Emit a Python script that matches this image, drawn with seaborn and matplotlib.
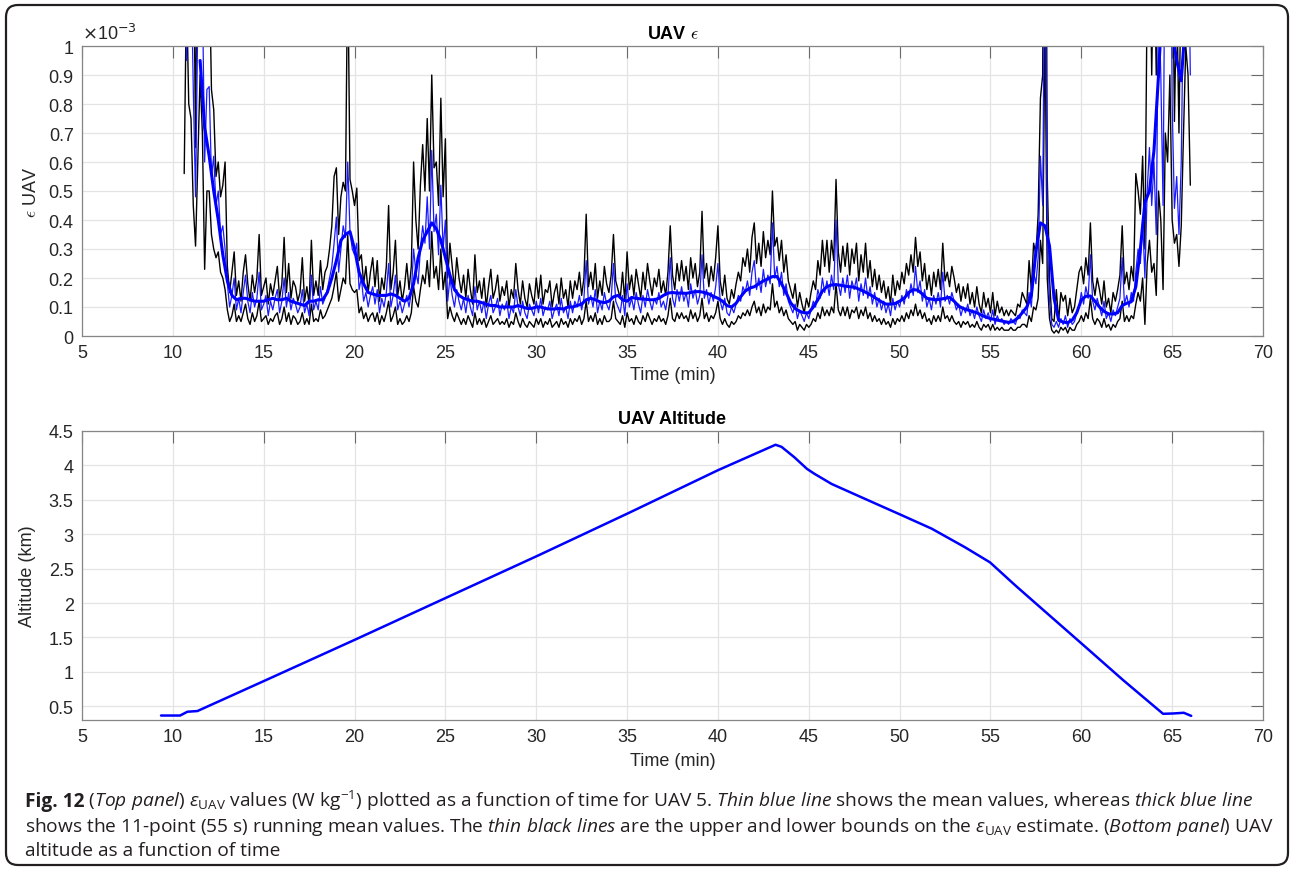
import numpy as np
import pandas as pd
import matplotlib
matplotlib.use("Agg")
import matplotlib.pyplot as plt
import seaborn as sns
from matplotlib.patches import FancyBboxPatch
from matplotlib.ticker import FuncFormatter, MultipleLocator

# ---------------- data (epsilon in units of 1e-3 W/kg) ----------------
# sampled every 0.125 min starting at 10.625 min (rows = one minute)
eps_t0, eps_dt = 10.625, 0.125
eps_mean = [
    1.6, 0.95, 1.4,
    1.3, 0.85, 0.48, 1.1, 1.5, 1.2, 0.60, 0.85,
    0.86, 0.55, 0.62, 0.45, 0.50, 0.35, 0.38, 0.30,
    0.18, 0.10, 0.14, 0.20, 0.09, 0.13, 0.08, 0.15,
    0.21, 0.12, 0.08, 0.15, 0.10, 0.13, 0.22, 0.09,
    0.11, 0.14, 0.07, 0.12, 0.09, 0.13, 0.16, 0.08,
    0.12, 0.20, 0.10, 0.15, 0.09, 0.13, 0.11, 0.08,
    0.10, 0.16, 0.08, 0.11, 0.07, 0.21, 0.09, 0.12,
    0.09, 0.17, 0.11, 0.13, 0.16, 0.20, 0.24, 0.32,
    0.41, 0.22, 0.30, 0.38, 0.34, 0.60, 0.36, 0.30,
    0.28, 0.32, 0.16, 0.20, 0.12, 0.15, 0.10, 0.14,
    0.17, 0.11, 0.16, 0.08, 0.13, 0.10, 0.15, 0.25,
    0.10, 0.14, 0.21, 0.09, 0.12, 0.08, 0.11, 0.14,
    0.10, 0.15, 0.30, 0.22, 0.18, 0.30, 0.38, 0.32,
    0.48, 0.30, 0.64, 0.36, 0.42, 0.28, 0.52, 0.30,
    0.40, 0.12, 0.20, 0.14, 0.10, 0.16, 0.12, 0.09,
    0.13, 0.08, 0.14, 0.10, 0.07, 0.17, 0.09, 0.12,
    0.08, 0.12, 0.06, 0.11, 0.14, 0.08, 0.10, 0.13,
    0.07, 0.11, 0.09, 0.12, 0.06, 0.10, 0.08, 0.16,
    0.10, 0.07, 0.12, 0.08, 0.06, 0.11, 0.09, 0.07,
    0.12, 0.08, 0.13, 0.07, 0.10, 0.09, 0.12, 0.06,
    0.09, 0.11, 0.07, 0.13, 0.08, 0.10, 0.06, 0.12,
    0.08, 0.12, 0.10, 0.14, 0.09, 0.13, 0.26, 0.11,
    0.14, 0.10, 0.16, 0.08, 0.12, 0.09, 0.15, 0.11,
    0.09, 0.13, 0.25, 0.12, 0.10, 0.08, 0.14, 0.07,
    0.18, 0.10, 0.13, 0.09, 0.15, 0.11, 0.08, 0.14,
    0.10, 0.16, 0.12, 0.09, 0.13, 0.11, 0.15, 0.10,
    0.12, 0.09, 0.14, 0.27, 0.13, 0.10, 0.16, 0.12,
    0.17, 0.12, 0.15, 0.10, 0.18, 0.13, 0.16, 0.11,
    0.14, 0.28, 0.13, 0.16, 0.11, 0.15, 0.12, 0.17,
    0.25, 0.12, 0.09, 0.13, 0.08, 0.07, 0.10, 0.08,
    0.11, 0.14, 0.12, 0.17, 0.15, 0.19, 0.14, 0.22,
    0.26, 0.16, 0.20, 0.15, 0.23, 0.17, 0.21, 0.18,
    0.39, 0.20, 0.24, 0.17, 0.22, 0.14, 0.18, 0.12,
    0.10, 0.08, 0.11, 0.06, 0.09, 0.07, 0.05, 0.08,
    0.06, 0.09, 0.12, 0.10, 0.16, 0.13, 0.20, 0.15,
    0.19, 0.14, 0.21, 0.16, 0.40, 0.18, 0.14, 0.20,
    0.15, 0.21, 0.13, 0.19, 0.16, 0.20, 0.12, 0.18,
    0.14, 0.20, 0.13, 0.17, 0.11, 0.15, 0.10, 0.13,
    0.09, 0.12, 0.08, 0.11, 0.07, 0.13, 0.09, 0.12,
    0.10, 0.14, 0.11, 0.16, 0.13, 0.18, 0.14, 0.24,
    0.15, 0.19, 0.12, 0.16, 0.10, 0.13, 0.09, 0.14,
    0.11, 0.15, 0.10, 0.22, 0.12, 0.14, 0.11, 0.15,
    0.12, 0.09, 0.11, 0.07, 0.10, 0.08, 0.11, 0.07,
    0.09, 0.06, 0.10, 0.07, 0.05, 0.09, 0.06, 0.08,
    0.05, 0.09, 0.04, 0.07, 0.05, 0.06, 0.04, 0.05,
    0.04, 0.06, 0.05, 0.04, 0.07, 0.06, 0.09, 0.08,
    0.07, 0.15, 0.10, 0.22, 0.18, 0.27, 0.62, 0.45,
    1.5, 0.35, 0.12, 0.04, 0.03, 0.05, 0.03, 0.06,
    0.04, 0.07, 0.03, 0.06, 0.04, 0.05, 0.08, 0.10,
    0.15, 0.11, 0.17, 0.13, 0.28, 0.12, 0.09, 0.13,
    0.10, 0.07, 0.12, 0.06, 0.08, 0.05, 0.09, 0.07,
    0.10, 0.13, 0.27, 0.11, 0.14, 0.10, 0.15, 0.12,
    0.22, 0.30, 0.25, 0.40, 0.20, 0.50, 0.65, 0.45,
    0.60, 0.35, 1.20, 0.90, 0.45, 1.60, 1.30, 2.00,
    0.80, 0.44, 0.55, 0.35, 0.60, 1.20, 1.80, 1.50,
    0.90,
]
eps_upper = [
    2.5, 2.0, 2.3,
    2.0, 1.5, 0.65, 1.8, 2.5, 2.0, 1.2, 1.6,
    1.3, 0.85, 0.78, 0.55, 0.60, 0.48, 0.52, 0.60,
    0.24, 0.15, 0.22, 0.29, 0.14, 0.19, 0.12, 0.22,
    0.28, 0.18, 0.12, 0.21, 0.15, 0.20, 0.35, 0.14,
    0.17, 0.20, 0.11, 0.18, 0.14, 0.19, 0.24, 0.13,
    0.18, 0.34, 0.15, 0.25, 0.13, 0.19, 0.17, 0.12,
    0.15, 0.27, 0.12, 0.17, 0.11, 0.33, 0.14, 0.19,
    0.14, 0.26, 0.16, 0.22, 0.24, 0.30, 0.38, 0.55,
    0.58, 0.35, 0.48, 0.53, 0.50, 1.30, 0.54, 0.50,
    0.45, 0.51, 0.26, 0.28, 0.18, 0.24, 0.15, 0.22,
    0.27, 0.17, 0.26, 0.12, 0.20, 0.16, 0.24, 0.45,
    0.16, 0.22, 0.33, 0.14, 0.19, 0.12, 0.17, 0.25,
    0.16, 0.24, 0.60, 0.40, 0.30, 0.52, 0.66, 0.50,
    0.75, 0.50, 0.90, 0.58, 0.60, 0.45, 0.82, 0.48,
    0.68, 0.20, 0.32, 0.24, 0.16, 0.27, 0.20, 0.15,
    0.21, 0.13, 0.23, 0.16, 0.11, 0.28, 0.15, 0.19,
    0.13, 0.20, 0.10, 0.17, 0.23, 0.13, 0.16, 0.21,
    0.12, 0.17, 0.14, 0.19, 0.10, 0.16, 0.13, 0.25,
    0.16, 0.11, 0.19, 0.13, 0.10, 0.18, 0.14, 0.11,
    0.20, 0.13, 0.21, 0.11, 0.16, 0.15, 0.19, 0.10,
    0.15, 0.18, 0.11, 0.20, 0.13, 0.16, 0.10, 0.19,
    0.13, 0.19, 0.16, 0.22, 0.14, 0.20, 0.42, 0.17,
    0.22, 0.16, 0.25, 0.13, 0.19, 0.14, 0.24, 0.18,
    0.15, 0.21, 0.35, 0.19, 0.16, 0.13, 0.22, 0.12,
    0.29, 0.16, 0.21, 0.14, 0.23, 0.18, 0.13, 0.22,
    0.16, 0.25, 0.19, 0.14, 0.20, 0.17, 0.23, 0.15,
    0.19, 0.14, 0.22, 0.38, 0.21, 0.16, 0.25, 0.19,
    0.26, 0.19, 0.24, 0.16, 0.27, 0.20, 0.25, 0.17,
    0.22, 0.43, 0.20, 0.25, 0.17, 0.24, 0.19, 0.27,
    0.38, 0.19, 0.14, 0.21, 0.13, 0.11, 0.16, 0.13,
    0.18, 0.22, 0.19, 0.27, 0.24, 0.30, 0.22, 0.34,
    0.39, 0.25, 0.32, 0.24, 0.36, 0.27, 0.33, 0.28,
    0.50, 0.31, 0.34, 0.26, 0.33, 0.22, 0.28, 0.19,
    0.16, 0.13, 0.18, 0.10, 0.15, 0.11, 0.08, 0.13,
    0.10, 0.15, 0.19, 0.16, 0.26, 0.21, 0.33, 0.24,
    0.33, 0.22, 0.33, 0.26, 0.54, 0.29, 0.22, 0.31,
    0.24, 0.32, 0.21, 0.30, 0.25, 0.32, 0.19, 0.28,
    0.22, 0.32, 0.20, 0.26, 0.17, 0.23, 0.16, 0.21,
    0.15, 0.19, 0.13, 0.17, 0.11, 0.21, 0.14, 0.19,
    0.16, 0.22, 0.18, 0.25, 0.21, 0.28, 0.22, 0.34,
    0.24, 0.29, 0.19, 0.25, 0.16, 0.21, 0.14, 0.22,
    0.17, 0.23, 0.16, 0.32, 0.19, 0.22, 0.17, 0.24,
    0.20, 0.15, 0.18, 0.12, 0.17, 0.13, 0.18, 0.11,
    0.15, 0.10, 0.17, 0.11, 0.08, 0.15, 0.10, 0.13,
    0.08, 0.15, 0.07, 0.12, 0.08, 0.10, 0.07, 0.09,
    0.07, 0.09, 0.08, 0.07, 0.11, 0.10, 0.15, 0.13,
    0.11, 0.26, 0.16, 0.32, 0.28, 0.42, 0.82, 0.90,
    2.6, 0.55, 0.20, 0.06, 0.05, 0.16, 0.05, 0.15,
    0.12, 0.14, 0.07, 0.13, 0.08, 0.10, 0.16, 0.22,
    0.24, 0.18, 0.27, 0.21, 0.39, 0.19, 0.14, 0.20,
    0.16, 0.11, 0.19, 0.10, 0.13, 0.08, 0.15, 0.12,
    0.16, 0.21, 0.38, 0.18, 0.22, 0.16, 0.24, 0.19,
    0.56, 0.50, 0.42, 0.62, 0.30, 1.20, 1.50, 0.90,
    1.40, 0.90, 2.50, 2.00, 1.20, 3.00, 2.50, 3.50,
    1.50, 0.74, 1.20, 0.70, 1.30, 2.50, 3.00, 2.80,
    1.80,
]
eps_lower = [
    0.56, 1.2, 0.80,
    0.75, 0.45, 0.31, 0.60, 0.90, 0.70, 0.23, 0.50,
    0.50, 0.35, 0.30, 0.27, 0.29, 0.22, 0.20, 0.16,
    0.09, 0.05, 0.07, 0.11, 0.05, 0.07, 0.05, 0.08,
    0.11, 0.06, 0.04, 0.08, 0.05, 0.07, 0.12, 0.05,
    0.06, 0.07, 0.04, 0.06, 0.05, 0.07, 0.08, 0.04,
    0.06, 0.10, 0.05, 0.08, 0.04, 0.07, 0.06, 0.04,
    0.05, 0.08, 0.04, 0.06, 0.04, 0.11, 0.05, 0.06,
    0.05, 0.09, 0.06, 0.07, 0.09, 0.11, 0.13, 0.17,
    0.22, 0.12, 0.16, 0.20, 0.18, 0.35, 0.18, 0.16,
    0.15, 0.16, 0.08, 0.10, 0.06, 0.08, 0.05, 0.07,
    0.08, 0.05, 0.08, 0.04, 0.07, 0.05, 0.08, 0.12,
    0.05, 0.07, 0.10, 0.04, 0.06, 0.04, 0.05, 0.07,
    0.05, 0.08, 0.17, 0.12, 0.10, 0.16, 0.21, 0.18,
    0.26, 0.17, 0.36, 0.20, 0.24, 0.16, 0.30, 0.16,
    0.22, 0.06, 0.10, 0.07, 0.05, 0.08, 0.06, 0.04,
    0.06, 0.04, 0.07, 0.05, 0.03, 0.08, 0.04, 0.06,
    0.04, 0.06, 0.03, 0.05, 0.07, 0.04, 0.05, 0.06,
    0.04, 0.05, 0.04, 0.06, 0.03, 0.05, 0.04, 0.08,
    0.05, 0.03, 0.06, 0.04, 0.03, 0.05, 0.04, 0.03,
    0.06, 0.04, 0.06, 0.03, 0.05, 0.04, 0.06, 0.03,
    0.04, 0.05, 0.03, 0.06, 0.04, 0.05, 0.03, 0.06,
    0.04, 0.06, 0.05, 0.07, 0.04, 0.06, 0.12, 0.05,
    0.07, 0.05, 0.08, 0.04, 0.06, 0.04, 0.07, 0.05,
    0.05, 0.06, 0.12, 0.06, 0.05, 0.04, 0.07, 0.03,
    0.08, 0.05, 0.06, 0.04, 0.07, 0.05, 0.04, 0.07,
    0.05, 0.08, 0.06, 0.04, 0.06, 0.05, 0.07, 0.05,
    0.06, 0.04, 0.07, 0.13, 0.06, 0.05, 0.08, 0.06,
    0.08, 0.06, 0.07, 0.05, 0.09, 0.06, 0.08, 0.05,
    0.07, 0.13, 0.06, 0.08, 0.05, 0.07, 0.06, 0.08,
    0.12, 0.06, 0.04, 0.06, 0.04, 0.03, 0.05, 0.04,
    0.05, 0.07, 0.06, 0.08, 0.07, 0.09, 0.07, 0.10,
    0.12, 0.08, 0.10, 0.07, 0.11, 0.08, 0.10, 0.09,
    0.18, 0.10, 0.12, 0.08, 0.10, 0.07, 0.09, 0.06,
    0.05, 0.04, 0.05, 0.02, 0.04, 0.03, 0.02, 0.04,
    0.03, 0.04, 0.06, 0.05, 0.08, 0.06, 0.10, 0.07,
    0.09, 0.07, 0.10, 0.08, 0.18, 0.09, 0.07, 0.10,
    0.07, 0.10, 0.06, 0.09, 0.08, 0.10, 0.06, 0.09,
    0.07, 0.10, 0.06, 0.08, 0.05, 0.07, 0.05, 0.06,
    0.04, 0.06, 0.04, 0.05, 0.03, 0.06, 0.04, 0.06,
    0.05, 0.07, 0.05, 0.08, 0.06, 0.09, 0.07, 0.11,
    0.07, 0.09, 0.06, 0.08, 0.05, 0.06, 0.04, 0.07,
    0.05, 0.07, 0.05, 0.10, 0.06, 0.07, 0.05, 0.07,
    0.05, 0.04, 0.05, 0.03, 0.05, 0.04, 0.05, 0.03,
    0.04, 0.03, 0.05, 0.03, 0.02, 0.04, 0.03, 0.04,
    0.02, 0.04, 0.02, 0.03, 0.02, 0.03, 0.02, 0.02,
    0.02, 0.03, 0.02, 0.02, 0.03, 0.03, 0.04, 0.04,
    0.03, 0.07, 0.05, 0.10, 0.09, 0.13, 0.33, 0.25,
    1.1, 0.20, 0.06, 0.02, 0.01, 0.02, 0.01, 0.03,
    0.02, 0.03, 0.01, 0.03, 0.02, 0.02, 0.04, 0.05,
    0.07, 0.05, 0.08, 0.06, 0.13, 0.06, 0.04, 0.06,
    0.05, 0.03, 0.06, 0.03, 0.04, 0.02, 0.04, 0.03,
    0.05, 0.06, 0.12, 0.05, 0.07, 0.05, 0.07, 0.06,
    0.11, 0.15, 0.12, 0.20, 0.04, 0.25, 0.33, 0.22,
    0.25, 0.14, 0.50, 0.40, 0.16, 0.70, 0.60, 0.90,
    0.40, 0.32, 0.35, 0.24, 0.38, 0.70, 1.00, 0.90,
    0.52,
]
# 11-point (55 s) running mean, read every 0.25 min starting at 11.5 min
run_t0, run_dt = 11.5, 0.25
eps_running = [
    0.95, 0.72,
    0.62, 0.50, 0.40, 0.28,
    0.19, 0.14, 0.125, 0.13,
    0.13, 0.125, 0.12, 0.12,
    0.12, 0.125, 0.13, 0.125,
    0.125, 0.13, 0.12, 0.115,
    0.11, 0.105, 0.12, 0.12,
    0.125, 0.125, 0.15, 0.20,
    0.26, 0.33, 0.35, 0.36,
    0.30, 0.22, 0.18, 0.15,
    0.145, 0.14, 0.14, 0.14,
    0.145, 0.14, 0.13, 0.12,
    0.13, 0.18, 0.27, 0.33,
    0.36, 0.39, 0.37, 0.33,
    0.27, 0.21, 0.16, 0.14,
    0.13, 0.125, 0.12, 0.12,
    0.115, 0.11, 0.105, 0.105,
    0.10, 0.10, 0.10, 0.10,
    0.105, 0.10, 0.095, 0.095,
    0.10, 0.10, 0.095, 0.093,
    0.093, 0.095, 0.093, 0.10,
    0.10, 0.105, 0.11, 0.125,
    0.13, 0.125, 0.118, 0.115,
    0.12, 0.135, 0.14, 0.125,
    0.12, 0.133, 0.13, 0.128,
    0.127, 0.125, 0.125, 0.13,
    0.14, 0.148, 0.15, 0.148,
    0.148, 0.147, 0.15, 0.153,
    0.153, 0.15, 0.145, 0.137,
    0.13, 0.12, 0.105, 0.10,
    0.113, 0.135, 0.155, 0.165,
    0.17, 0.18, 0.19, 0.197,
    0.205, 0.205, 0.18, 0.15,
    0.115, 0.095, 0.085, 0.08,
    0.08, 0.10, 0.125, 0.155,
    0.17, 0.176, 0.177, 0.175,
    0.172, 0.17, 0.168, 0.162,
    0.155, 0.147, 0.138, 0.128,
    0.118, 0.11, 0.11, 0.112,
    0.12, 0.13, 0.15, 0.16,
    0.158, 0.145, 0.13, 0.127,
    0.125, 0.127, 0.13, 0.133,
    0.12, 0.103, 0.095, 0.09,
    0.085, 0.08, 0.072, 0.065,
    0.06, 0.057, 0.053, 0.05,
    0.047, 0.05, 0.062, 0.08,
    0.10, 0.14, 0.29, 0.39,
    0.38, 0.31, 0.13, 0.055,
    0.048, 0.046, 0.055, 0.08,
    0.125, 0.137, 0.138, 0.12,
    0.10, 0.085, 0.076, 0.076,
    0.08, 0.105, 0.113, 0.118,
    0.17, 0.30, 0.46, 0.50,
    0.64, 0.90, 1.20, 1.30,
    1.05, 0.95, 0.88, 1.10,
]
# altitude (km) vs time (min)
alt_time = [9.35, 10.4, 10.8, 11.35, 15.0, 20.05, 25.07, 30.1, 35.1, 40.0,
            43.17, 43.5, 44.2, 44.9, 45.3, 46.26, 48.55, 50.0, 51.77, 53.6,
            54.98, 56.35, 57.73, 60.02, 62.3, 64.5, 65.07, 65.64, 66.05]
alt_km = [0.365, 0.365, 0.42, 0.43, 0.865, 1.47, 2.08, 2.69, 3.31, 3.93,
          4.30, 4.27, 4.12, 3.95, 3.88, 3.73, 3.46, 3.29, 3.08, 2.81,
          2.59, 2.26, 1.94, 1.41, 0.88, 0.39, 0.395, 0.405, 0.36]

x_ticks = list(range(5, 75, 5))

caption_label = "Fig. 12"
caption_lines = [
    r" ($\mathit{Top\ panel}$) $\varepsilon_{\mathrm{UAV}}$ values (W kg$^{-1}$) plotted as a function of time for UAV 5. $\mathit{Thin\ blue\ line}$ shows the mean values, whereas $\mathit{thick\ blue\ line}$",
    r"shows the 11-point (55 s) running mean values. The $\mathit{thin\ black\ lines}$ are the upper and lower bounds on the $\varepsilon_{\mathrm{UAV}}$ estimate. ($\mathit{Bottom\ panel}$) UAV",
    r"altitude as a function of time",
]

# ---------------- frames ----------------
n = len(eps_mean)
df_eps = pd.DataFrame({
    "time": eps_t0 + eps_dt * np.arange(n),
    "mean": eps_mean,
    "upper": eps_upper[:n],
    "lower": eps_lower[:n],
})
df_run = pd.DataFrame({"time": run_t0 + run_dt * np.arange(len(eps_running)),
                       "run": eps_running})
df_alt = pd.DataFrame({"time": alt_time, "alt": alt_km})

# ---------------- style ----------------
sns.set_style("white")
plt.rcParams["font.family"] = ["Liberation Sans", "DejaVu Sans"]
plt.rcParams["mathtext.fontset"] = "custom"
plt.rcParams["mathtext.rm"] = "Open Sans"
plt.rcParams["mathtext.it"] = "Open Sans:italic"
plt.rcParams["mathtext.bf"] = "Open Sans:bold"

W, H = 1293, 870
fig = plt.figure(figsize=(W / 100, H / 100), dpi=100)
fig.patch.set_facecolor("white")

ax1 = fig.add_axes([82 / W, 1 - 337 / H, (1263 - 82) / W, (337 - 47) / H])
ax2 = fig.add_axes([82 / W, 1 - 721 / H, (1263 - 82) / W, (721 - 432) / H])

TXT = "#262626"


def style(ax):
    ax.set_facecolor("white")
    ax.grid(True, color="#e4e4e4", linewidth=0.9)
    ax.set_axisbelow(True)
    for s in ax.spines.values():
        s.set_visible(True)
        s.set_color("#858585")
        s.set_linewidth(0.9)
    ax.tick_params(direction="in", length=8.5, width=0.8, color="#6a6a6a",
                   top=True, right=True, labelsize=13, labelcolor=TXT, pad=6)
    ax.xaxis.set_major_locator(plt.FixedLocator(x_ticks))
    ax.set_xlim(5, 70)
    fmt = FuncFormatter(lambda v, p: f"{v:g}")
    ax.xaxis.set_major_formatter(fmt)
    ax.yaxis.set_major_formatter(fmt)


# top panel
sns.lineplot(data=df_eps, x="time", y="upper", ax=ax1, color="black",
             linewidth=1.0, estimator=None, sort=False)
sns.lineplot(data=df_eps, x="time", y="lower", ax=ax1, color="black",
             linewidth=1.0, estimator=None, sort=False)
sns.lineplot(data=df_eps, x="time", y="mean", ax=ax1, color="#1a1aff",
             linewidth=0.9, estimator=None, sort=False)
sns.lineplot(data=df_run, x="time", y="run", ax=ax1, color="#0000ff",
             linewidth=2.2, estimator=None, sort=False)
style(ax1)
ax1.set_ylim(0, 1)
ax1.yaxis.set_major_locator(MultipleLocator(0.1))
ax1.set_title(r"UAV $\epsilon$", fontsize=13, fontweight="bold", color="black",
              pad=6, math_fontfamily="cm")
ax1.set_xlabel("Time (min)", fontsize=13, color=TXT)
ax1.set_ylabel(r"$\epsilon$ UAV", fontsize=13, color=TXT, math_fontfamily="cm")
ax1.xaxis.set_label_coords(0.5, -0.105)
ax1.yaxis.set_label_coords(-0.0355, 0.5)
ax1.text(0.0, 1.012, r"$\times$10$^{-3}$", transform=ax1.transAxes, fontsize=13,
         color=TXT, ha="left", va="bottom", math_fontfamily="dejavusans")

# bottom panel
sns.lineplot(data=df_alt, x="time", y="alt", ax=ax2, color="#0000ff",
             linewidth=1.8, estimator=None, sort=False)
style(ax2)
ax2.set_ylim(0.3, 4.5)
ax2.yaxis.set_major_locator(MultipleLocator(0.5))
ax2.set_title("UAV Altitude", fontsize=13, fontweight="bold", color="black", pad=6)
ax2.set_xlabel("Time (min)", fontsize=13, color=TXT)
ax2.set_ylabel("Altitude (km)", fontsize=13, color=TXT)
ax2.xaxis.set_label_coords(0.5, -0.11)
ax2.yaxis.set_label_coords(-0.039, 0.5)

# caption
CAP_FS = 13.8
cap_y = [807, 832, 856]
lab = fig.text(25 / W, 1 - cap_y[0] / H, caption_label, fontsize=CAP_FS,
               fontweight="bold", color="#231f20", family="Open Sans",
               ha="left", va="baseline")
renderer = fig.canvas.get_renderer()
lab_w = lab.get_window_extent(renderer).width
for i, (line, yy) in enumerate(zip(caption_lines, cap_y)):
    x0 = 25 + (lab_w if i == 0 else 0)
    fig.text(x0 / W, 1 - yy / H, line, fontsize=CAP_FS, color="#231f20",
             family="Open Sans", ha="left", va="baseline", math_fontfamily="custom")

# rounded frame around the figure
frame = FancyBboxPatch((0.06, 0.04), 12.82, 8.60,
                       boxstyle="round,pad=0,rounding_size=0.12",
                       transform=fig.dpi_scale_trans, facecolor="none",
                       edgecolor="#231f20", linewidth=1.6, zorder=10)
fig.add_artist(frame)

fig.savefig("out.png", dpi=100, facecolor="white")
